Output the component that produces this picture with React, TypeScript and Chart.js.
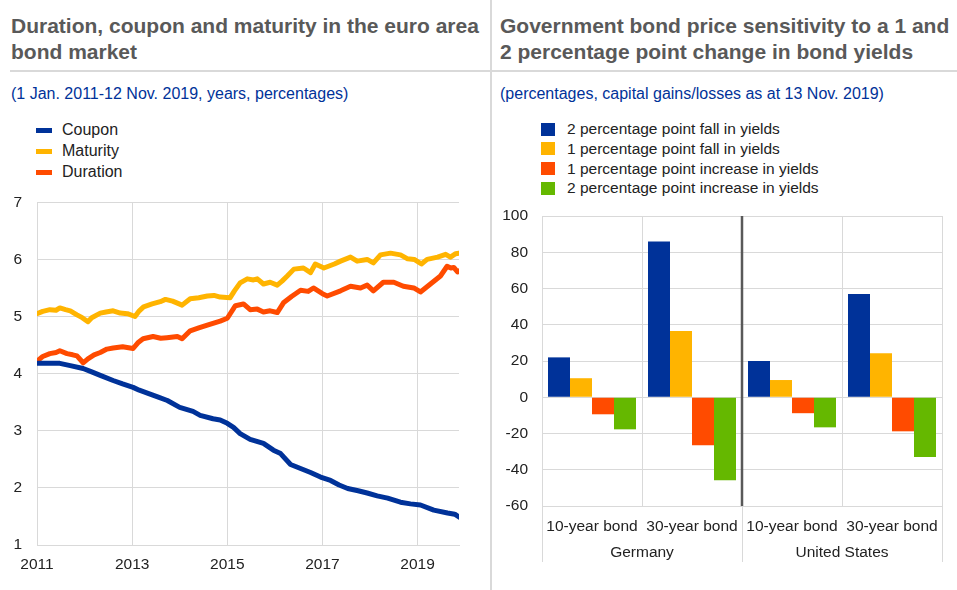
import React, { useEffect, useRef } from "react";
import { Chart, registerables } from "chart.js";

Chart.register(...registerables);

// ---------- Left chart data (year fraction, value) ----------
const couponPoints: [number, number][] = [
  [2011.0, 4.18], [2011.25, 4.18], [2011.48, 4.18], [2011.7, 4.14], [2011.97, 4.09],
  [2012.15, 4.03], [2012.33, 3.97], [2012.6, 3.88], [2012.8, 3.82], [2013.02, 3.76],
  [2013.15, 3.71], [2013.32, 3.66], [2013.55, 3.59], [2013.74, 3.53], [2014.0, 3.41],
  [2014.28, 3.34], [2014.43, 3.27], [2014.7, 3.21], [2014.85, 3.19], [2015.0, 3.13],
  [2015.13, 3.06], [2015.27, 2.95], [2015.48, 2.85], [2015.76, 2.78], [2015.97, 2.66],
  [2016.12, 2.6], [2016.33, 2.41], [2016.54, 2.34], [2016.75, 2.27], [2016.96, 2.19],
  [2017.17, 2.13], [2017.35, 2.05], [2017.53, 1.99], [2017.75, 1.95], [2017.94, 1.91],
  [2018.15, 1.86], [2018.37, 1.82], [2018.64, 1.75], [2018.85, 1.72], [2019.06, 1.7],
  [2019.34, 1.61], [2019.63, 1.56], [2019.78, 1.54], [2019.87, 1.49],
];

const maturityPoints: [number, number][] = [
  [2011.0, 5.05], [2011.12, 5.09], [2011.27, 5.12], [2011.4, 5.11], [2011.48, 5.15],
  [2011.6, 5.12], [2011.7, 5.1], [2011.84, 5.03], [2011.95, 4.98], [2012.07, 4.91],
  [2012.15, 4.98], [2012.33, 5.06], [2012.45, 5.08], [2012.6, 5.1], [2012.75, 5.06],
  [2012.9, 5.05], [2013.06, 5.0], [2013.15, 5.1], [2013.24, 5.17], [2013.42, 5.22],
  [2013.59, 5.26], [2013.7, 5.3], [2013.85, 5.27], [2014.05, 5.2], [2014.22, 5.31],
  [2014.4, 5.33], [2014.58, 5.36], [2014.72, 5.37], [2014.85, 5.34], [2015.06, 5.33],
  [2015.15, 5.45], [2015.27, 5.59], [2015.42, 5.66], [2015.55, 5.64], [2015.63, 5.66],
  [2015.76, 5.57], [2015.9, 5.6], [2016.05, 5.55], [2016.15, 5.62], [2016.26, 5.71],
  [2016.4, 5.83], [2016.6, 5.85], [2016.75, 5.77], [2016.85, 5.92], [2017.03, 5.85],
  [2017.25, 5.92], [2017.38, 5.97], [2017.59, 6.04], [2017.73, 5.97], [2017.94, 6.0],
  [2018.07, 5.94], [2018.22, 6.08], [2018.43, 6.11], [2018.64, 6.08], [2018.79, 6.01],
  [2018.93, 6.0], [2019.08, 5.92], [2019.2, 6.0], [2019.42, 6.04], [2019.59, 6.09],
  [2019.69, 6.04], [2019.8, 6.1], [2019.87, 6.11],
];

const durationPoints: [number, number][] = [
  [2011.0, 4.22], [2011.12, 4.3], [2011.27, 4.35], [2011.4, 4.37], [2011.48, 4.4],
  [2011.63, 4.35], [2011.75, 4.33], [2011.84, 4.31], [2011.97, 4.19], [2012.07, 4.26],
  [2012.2, 4.33], [2012.33, 4.37], [2012.47, 4.43], [2012.6, 4.45], [2012.8, 4.47],
  [2013.02, 4.44], [2013.12, 4.54], [2013.23, 4.61], [2013.44, 4.65], [2013.6, 4.62],
  [2013.73, 4.63], [2013.95, 4.65], [2014.05, 4.61], [2014.22, 4.75], [2014.4, 4.8],
  [2014.58, 4.85], [2014.85, 4.92], [2015.0, 4.97], [2015.17, 5.19], [2015.34, 5.22],
  [2015.48, 5.12], [2015.63, 5.13], [2015.76, 5.08], [2015.9, 5.1], [2016.05, 5.07],
  [2016.18, 5.24], [2016.35, 5.35], [2016.54, 5.46], [2016.7, 5.44], [2016.81, 5.5],
  [2017.0, 5.4], [2017.1, 5.36], [2017.38, 5.45], [2017.59, 5.53], [2017.8, 5.5],
  [2017.94, 5.55], [2018.07, 5.45], [2018.28, 5.6], [2018.5, 5.6], [2018.7, 5.53],
  [2018.92, 5.5], [2019.06, 5.43], [2019.27, 5.57], [2019.48, 5.71], [2019.62, 5.88],
  [2019.7, 5.85], [2019.76, 5.86], [2019.84, 5.78], [2019.87, 5.8],
];

const leftSeriesNames = ["Coupon", "Maturity", "Duration"];
const yearTicks = [2011, 2013, 2015, 2017, 2019];

// ---------- Right chart data ----------
const bondCategories = ["10-year bond", "30-year bond", "10-year bond", "30-year bond"];
const countryGroups = ["Germany", "United States"];
const fall2 = [22, 86, 20, 57];
const fall1 = [10.5, 36.5, 9.5, 24.3];
const rise1 = [-9.4, -26.5, -8.8, -18.8];
const rise2 = [-17.7, -45.8, -16.6, -33];
const rightSeriesNames = [
  "2 percentage point fall in yields",
  "1 percentage point fall in yields",
  "1 percentage point increase in yields",
  "2 percentage point increase in yields",
];

const BLUE = "#003299";
const YELLOW = "#FFB400";
const ORANGE = "#FF4B00";
const GREEN = "#65B800";
const GRID = "#d9d9d9";
const TICK = "#222222";
const FONT = "'Liberation Sans', Arial, sans-serif";
const TICK_SIZE = 15.5;

const toXY = (pts: [number, number][]) => pts.map(([x, y]) => ({ x, y }));

function LeftChart() {
  const ref = useRef<HTMLCanvasElement>(null);
  useEffect(() => {
    const chart = new Chart(ref.current!, {
      type: "line",
      data: {
        datasets: [
          { label: leftSeriesNames[0], data: toXY(couponPoints), borderColor: BLUE, backgroundColor: BLUE },
          { label: leftSeriesNames[1], data: toXY(maturityPoints), borderColor: YELLOW, backgroundColor: YELLOW },
          { label: leftSeriesNames[2], data: toXY(durationPoints), borderColor: ORANGE, backgroundColor: ORANGE },
        ].map((d) => ({ ...d, borderWidth: 5, pointRadius: 0, tension: 0, borderJoinStyle: "round" as const, borderCapStyle: "round" as const })),
      },
      options: {
        animation: false,
        responsive: false,
        maintainAspectRatio: false,
        layout: { padding: { top: 11, right: 21, left: 0, bottom: 0 } },
        plugins: { legend: { display: false }, tooltip: { enabled: false } },
        scales: {
          x: {
            type: "linear",
            min: 2011,
            max: 2019.87,
            afterBuildTicks: (s: any) => {
              s.ticks = yearTicks.map((v) => ({ value: v }));
            },
            afterFit: (s: any) => {
              s.height = 35;
            },
            ticks: {
              autoSkip: false,
              maxRotation: 0,
              padding: 10,
              color: TICK,
              font: { family: FONT, size: TICK_SIZE },
              callback: (v: any) => String(v),
            },
            grid: { color: GRID, drawTicks: false, lineWidth: 1 },
            border: { color: GRID },
          },
          y: {
            min: 1,
            max: 7,
            afterFit: (s: any) => {
              s.width = 37;
            },
            ticks: {
              stepSize: 1,
              padding: 15,
              color: TICK,
              font: { family: FONT, size: TICK_SIZE },
            },
            grid: { color: GRID, drawTicks: false },
            border: { color: GRID },
          },
        },
      },
    });
    return () => chart.destroy();
  }, []);
  return <canvas ref={ref} width={480} height={402} style={{ position: "absolute", left: 0, top: 178, width: 480, height: 402 }} />;
}

const groupPlugin = {
  id: "groupLabels",
  afterDraw(chart: any) {
    const { ctx, chartArea } = chart;
    const x = chart.scales.x;
    const n = bondCategories.length;
    const w = (x.right - x.left) / n;
    ctx.save();
    ctx.strokeStyle = GRID;
    ctx.lineWidth = 1;
    const per = n / countryGroups.length;
    for (let g = 0; g <= countryGroups.length; g++) {
      const px = Math.round(x.left + g * per * w) + 0.5;
      ctx.beginPath();
      ctx.moveTo(px, chartArea.bottom);
      ctx.lineTo(px, chartArea.bottom + 56);
      ctx.stroke();
    }
    ctx.strokeStyle = "#595959";
    ctx.lineWidth = 2.5;
    for (let g = 1; g < countryGroups.length; g++) {
      const px = x.left + g * per * w;
      ctx.beginPath();
      ctx.moveTo(px, chartArea.top);
      ctx.lineTo(px, chartArea.bottom);
      ctx.stroke();
    }
    ctx.fillStyle = TICK;
    ctx.font = `${TICK_SIZE}px ${FONT}`;
    ctx.textAlign = "center";
    ctx.textBaseline = "middle";
    countryGroups.forEach((name, g) => {
      const cx = x.left + (g + 0.5) * per * w;
      ctx.fillText(name, cx, chartArea.bottom + 47);
    });
    ctx.restore();
  },
};

function RightChart() {
  const ref = useRef<HTMLCanvasElement>(null);
  useEffect(() => {
    const colors = [BLUE, YELLOW, ORANGE, GREEN];
    const series = [fall2, fall1, rise1, rise2];
    const chart = new Chart(ref.current!, {
      type: "bar",
      data: {
        labels: bondCategories,
        datasets: series.map((d, i) => ({
          label: rightSeriesNames[i],
          data: d,
          backgroundColor: colors[i],
          borderWidth: 0,
          barPercentage: 1,
          categoryPercentage: 0.88,
        })),
      },
      options: {
        animation: false,
        responsive: false,
        maintainAspectRatio: false,
        layout: { padding: { top: 26, right: 15, left: 0, bottom: 0 } },
        plugins: { legend: { display: false }, tooltip: { enabled: false } },
        scales: {
          x: {
            afterFit: (s: any) => {
              s.height = 79;
            },
            ticks: {
              padding: 11,
              color: TICK,
              font: { family: FONT, size: TICK_SIZE },
              autoSkip: false,
              maxRotation: 0,
            },
            grid: { color: GRID, drawTicks: false, offset: true },
            border: { color: GRID },
          },
          y: {
            min: -60,
            max: 100,
            afterFit: (s: any) => {
              s.width = 50;
            },
            ticks: {
              stepSize: 20,
              padding: 14,
              color: TICK,
              font: { family: FONT, size: TICK_SIZE },
            },
            grid: { color: GRID, drawTicks: false },
            border: { color: GRID },
          },
        },
      },
      plugins: [groupPlugin],
    });
    return () => chart.destroy();
  }, []);
  return <canvas ref={ref} width={465} height={395} style={{ position: "absolute", left: 492, top: 190, width: 465, height: 395 }} />;
}

const titleStyle: React.CSSProperties = {
  position: "absolute",
  fontWeight: "bold",
  fontSize: 21,
  lineHeight: "26px",
  color: "#595959",
};
const subStyle: React.CSSProperties = {
  position: "absolute",
  fontSize: 16,
  color: BLUE,
  whiteSpace: "nowrap",
};
const legendText: React.CSSProperties = { fontSize: 16, color: TICK, whiteSpace: "nowrap" };

export default function App() {
  const leftColors = [BLUE, YELLOW, ORANGE];
  const rightColors = [BLUE, YELLOW, ORANGE, GREEN];
  return (
    <div style={{ position: "absolute", left: 0, top: 0, width: 957, height: 590, background: "#fff", fontFamily: FONT, overflow: "hidden" }}>
      <div style={{ ...titleStyle, left: 11, top: 13, width: 478 }}>Duration, coupon and maturity in the euro area bond market</div>
      <div style={{ ...titleStyle, left: 500, top: 13, width: 457 }}>Government bond price sensitivity to a 1 and 2 percentage point change in bond yields</div>
      <div style={{ position: "absolute", left: 10, top: 70, width: 947, height: 2, background: GRID }} />
      <div style={{ position: "absolute", left: 490, top: 0, width: 2, height: 590, background: GRID }} />
      <div style={{ ...subStyle, left: 11, top: 85 }}>(1 Jan. 2011-12 Nov. 2019, years, percentages)</div>
      <div style={{ ...subStyle, left: 500, top: 85 }}>(percentages, capital gains/losses as at 13 Nov. 2019)</div>

      {leftSeriesNames.map((name, i) => (
        <div key={name} style={{ position: "absolute", left: 36, top: 121 + i * 21, display: "flex", alignItems: "center", height: 18 }}>
          <span style={{ display: "inline-block", width: 16, height: 5, background: leftColors[i], marginRight: 10 }} />
          <span style={legendText}>{name}</span>
        </div>
      ))}

      {rightSeriesNames.map((name, i) => (
        <div key={name} style={{ position: "absolute", left: 541, top: 120 + i * 19.8, display: "flex", alignItems: "center", height: 18 }}>
          <span style={{ display: "inline-block", width: 14, height: 13, background: rightColors[i], marginRight: 12 }} />
          <span style={{ ...legendText, fontSize: 15.5 }}>{name}</span>
        </div>
      ))}

      <LeftChart />
      <RightChart />
    </div>
  );
}
